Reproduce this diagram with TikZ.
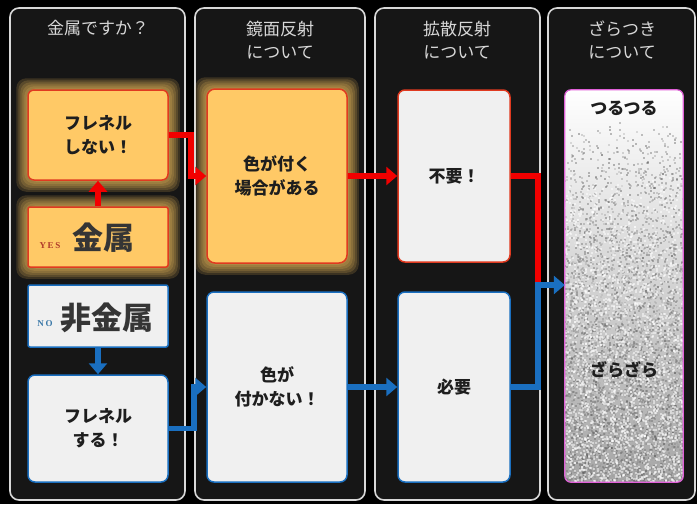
\documentclass[tikz,border=0pt]{standalone}
\usepackage{fontspec}
\setmainfont{Noto Sans CJK JP}
\newfontfamily\latserif[LetterSpace=18]{Liberation Serif}
\usetikzlibrary{arrows.meta,backgrounds,calc}
\definecolor{panelbg}{HTML}{161616}
\definecolor{panelbd}{HTML}{D8D8D8}
\definecolor{orangefill}{HTML}{FFC966}
\definecolor{redbd}{HTML}{E03A20}
\definecolor{redarr}{HTML}{F20000}
\definecolor{bluebd}{HTML}{1A6FC0}
\definecolor{lightfill}{HTML}{F0F0F0}
\definecolor{glowc}{HTML}{FFC860}
\definecolor{pinkbd}{HTML}{E060D8}
\definecolor{txt}{HTML}{1E1E1E}
\definecolor{headtxt}{HTML}{D8D8D8}
\definecolor{yestxt}{HTML}{B03A2A}
\definecolor{notxt}{HTML}{3A78A8}
\tikzset{
  panel/.style={draw=panelbd, line width=1.6pt, fill=panelbg, rounded corners=9pt},
  head/.style={text=headtxt, font=\fontsize{17}{23}\selectfont, align=center, inner sep=0pt},
  boxbase/.style={line width=1.5pt, text=txt, font=\fontsize{17}{24}\selectfont\bfseries, align=center, inner sep=0pt},
  hot/.style={boxbase, draw=redbd, fill=orangefill, rounded corners=6pt},
  redcold/.style={boxbase, draw=redbd, fill=lightfill, rounded corners=7pt},
  cool/.style={boxbase, draw=bluebd, fill=lightfill, rounded corners=7pt},
  bigword/.style={text=txt!90, font=\fontsize{31}{33}\selectfont\bfseries, inner sep=0pt},
  tag/.style={font=\latserif\bfseries\fontsize{9}{9}\selectfont, inner sep=0pt},
  redarrow/.style={draw=redarr, line width=5.5pt, -{Triangle[length=11pt,width=18pt]}},
  redline/.style={draw=redarr, line width=5.5pt},
  bluearrow/.style={draw=bluebd, line width=5.5pt, -{Triangle[length=11pt,width=18pt]}},
}
\begin{document}
\begin{tikzpicture}[x=1pt,y=-1pt]
\begin{scope}[on background layer]
  \fill[black] (0,0) rectangle (697,504);
  \draw[panel] (10,8) rectangle (185,500);
  \draw[panel] (195,8) rectangle (365,500);
  \draw[panel] (375,8) rectangle (540,500);
  \draw[panel] (548,8) rectangle (695,500);
\end{scope}
\useasboundingbox (0,0) rectangle (697,504);

% headers
\node[head] (h1) at (98,28) {金属ですか？};
\node[head] (h2) at (280,40) {鏡面反射\\について};
\node[head] (h3) at (457,40) {拡散反射\\について};
\node[head] (h4) at (622,40) {ざらつき\\について};

% column 1
\node[hot, minimum width=140pt, minimum height=90pt] (fs) at (98,135) {フレネル\\しない！};
\node[hot, rounded corners=2pt, minimum width=140pt, minimum height=60pt] (kin) at (98,237) {};
\node[bigword] (kinlbl) at (103,238) {金属};
\node[tag, text=yestxt] (yes) at (50,246) {YES};

\node[cool, rounded corners=2pt, minimum width=140pt, minimum height=62pt] (hik) at (98,316) {};
\node[bigword] (hiklbl) at (107,318) {非金属};
\node[tag, text=notxt] (no) at (45,324) {NO};

\node[cool, minimum width=140pt, minimum height=107pt] (fs2) at (98,428.5) {フレネル\\する！};

% column 2
\node[hot, rounded corners=8pt, minimum width=140pt, minimum height=174pt] (iro1) at (277,176) {色が付く\\場合がある};
\node[cool, minimum width=140pt, minimum height=190pt] (iro2) at (277,387) {色が\\付かない！};

% column 3
\node[redcold, minimum width=112pt, minimum height=172pt] (fuyou) at (454,176) {不要！};
\node[cool, minimum width=112pt, minimum height=190pt] (hitsu) at (454,387) {必要};

% column 4
\node[shading=axis, top color=white, bottom color=gray!70, rounded corners=6pt,
      minimum width=118pt, minimum height=392pt, inner sep=0pt] (zara) at (624,286) {};
\begin{scope}
  \clip[rounded corners=6pt] (zara.north west) rectangle (zara.south east);
  \pgfmathsetseed{7}
  \foreach \i in {1,...,4000}{
    \pgfmathsetmacro\rx{564+118*rnd}
    \pgfmathsetmacro\ry{120+362*(rnd^0.6)}
    \pgfmathsetmacro\gg{30+40*rnd}
    \fill[black!\gg, opacity=0.4] (\rx,\ry) rectangle ++(2,2);
  }
  \foreach \i in {1,...,2500}{
    \pgfmathsetmacro\rx{564+118*rnd}
    \pgfmathsetmacro\ry{170+312*(rnd^0.6)}
    \fill[white, opacity=0.5] (\rx,\ry) rectangle ++(2,2);
  }
\end{scope}
\draw[pinkbd, line width=1.2pt, rounded corners=6pt] (zara.north west) rectangle (zara.south east);
\node[boxbase] (tsuru) at (624,108) {つるつる};
\node[boxbase] (zarazara) at (624,370) {ざらざら};

% glows
\begin{scope}[on background layer]
  \foreach \n in {fs,kin,iro1}{
    \foreach \d in {11,9,...,1}{
      \fill[glowc, opacity=0.16, rounded corners=10pt]
        ([shift={(-\d,-\d)}]\n.north west) rectangle ([shift={(\d,\d)}]\n.south east);
    }
  }
\end{scope}

% connectors
\coordinate (j) at (538,285);
\draw[redarrow] (kin.north) -- (fs.south);
\draw[redarrow] (fs.east) -- ++(22,0) |- (iro1.west);
\draw[redarrow] (iro1.east) -- (fuyou.west);
\draw[redline] (fuyou.east) -| (j);
\draw[bluearrow] (hik.south) -- (fs2.north);
\draw[bluearrow] (fs2.east) -- ++(25,0) |- (iro2.west);
\draw[bluearrow] (iro2.east) -- (hitsu.west);
\draw[bluearrow] (hitsu.east) -| (j) -- (j -| zara.west);
\end{tikzpicture}
\end{document}
